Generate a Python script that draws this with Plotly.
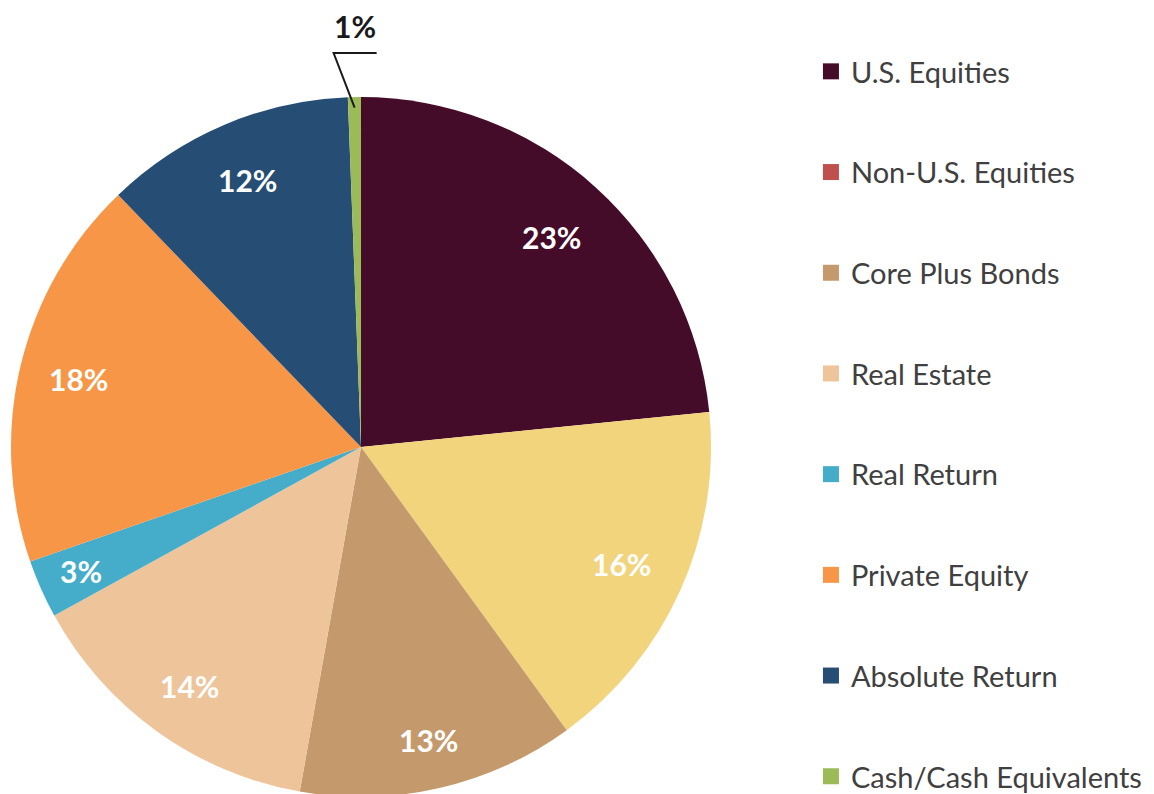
import math
import plotly.graph_objects as go

# ---- data ----
categories = ["U.S. Equities", "Non-U.S. Equities", "Core Plus Bonds", "Real Estate",
              "Real Return", "Private Equity", "Absolute Return", "Cash/Cash Equivalents"]
values = [23.4, 16.6, 12.8, 14.2, 2.7, 18.1, 11.6, 0.6]
labels = ["23%", "16%", "13%", "14%", "3%", "18%", "12%", "1%"]
slice_colors = ["#450C2A", "#F2D47C", "#C49A6C", "#EEC49A", "#45ADC9", "#F79646", "#264E74", "#9BBB59"]
legend_colors = ["#450C2A", "#C0504D", "#C49A6C", "#EEC49A", "#45ADC9", "#F79646", "#264E74", "#9BBB59"]

# style: radial placement of each inside label (fraction of the radius)
label_radius = [0.81, 0.816, 0.86, 0.84, 0.876, 0.83, 0.83, 0.97]

W, H = 1154, 794
FONT = "Lato"

dom_x = [0.0026, 0.6092]
dom_y = [0.0063, 0.8879]

fig = go.Figure()
fig.add_trace(go.Pie(
    labels=categories, values=values, sort=False, direction="clockwise", rotation=0,
    marker=dict(colors=slice_colors, line=dict(width=0)),
    textinfo="none", hoverinfo="label+percent", showlegend=False,
    domain=dict(x=dom_x, y=dom_y),
))

# legend entries (legend colours differ from slice colours in the reference)
for i, (c, col) in enumerate(zip(categories, legend_colors)):
    fig.add_trace(go.Scatter(
        x=[None], y=[None], mode="markers", name=c, legendgroup=str(i),
        marker=dict(symbol="square", size=16, color=col),
    ))

# label positions derived from slice angles
cx = (dom_x[0] + dom_x[1]) / 2 * W
cy = (dom_y[0] + dom_y[1]) / 2 * H  # from bottom
r = min((dom_x[1] - dom_x[0]) * W, (dom_y[1] - dom_y[0]) * H) / 2
total = sum(values)
annotations = []
shapes = []
cum = 0.0
for i, (v, lab) in enumerate(zip(values, labels)):
    a0 = cum / total * 2 * math.pi
    cum += v
    a1 = cum / total * 2 * math.pi
    am = (a0 + a1) / 2
    f = label_radius[i]
    if v / total > 0.02:
        px = cx + r * f * math.sin(am)
        py = cy + r * f * math.cos(am)
        annotations.append(dict(
            x=px / W, y=py / H, xref="paper", yref="paper", text="<b>%s</b>" % lab,
            showarrow=False, font=dict(family=FONT, size=30, color="white"),
            xanchor="center", yanchor="middle"))
    else:
        sx = cx + r * f * math.sin(am)
        sy = cy + r * f * math.cos(am)
        bx, by = sx - 21, cy + r + 44
        ex = bx + 43
        shapes.append(dict(
            type="path", xref="paper", yref="paper",
            path="M %f %f L %f %f L %f %f" % (sx / W, sy / H, bx / W, by / H, ex / W, by / H),
            line=dict(color="#1a1a1a", width=2)))
        annotations.append(dict(
            x=(bx + ex) / 2 / W, y=(by + 7) / H, xref="paper", yref="paper",
            text="<b>%s</b>" % lab, showarrow=False,
            font=dict(family=FONT, size=30, color="#1a1a1a"),
            xanchor="center", yanchor="bottom"))

fig.update_layout(
    width=W, height=H,
    margin=dict(l=0, r=0, t=0, b=0),
    paper_bgcolor="white", plot_bgcolor="white",
    xaxis=dict(visible=False), yaxis=dict(visible=False),
    annotations=annotations, shapes=shapes,
    showlegend=True,
    legend=dict(x=0.6958, y=1 - 56 / H, xanchor="left", yanchor="top",
                font=dict(family=FONT, size=29, color="#404040"),
                tracegroupgap=60, bgcolor="rgba(0,0,0,0)"),
    hovermode=False,
)

fig.write_html("out.html")
